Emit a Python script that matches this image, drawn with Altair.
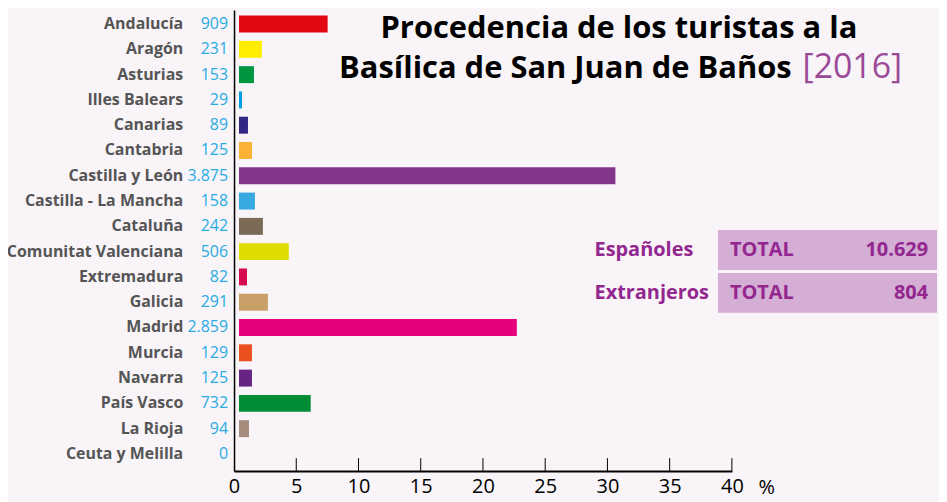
import altair as alt
import pandas as pd

regions = ["Andalucía", "Aragón", "Asturias", "Illes Balears", "Canarias", "Cantabria",
           "Castilla y León", "Castilla - La Mancha", "Cataluña", "Comunitat Valenciana",
           "Extremadura", "Galicia", "Madrid", "Murcia", "Navarra", "País Vasco",
           "La Rioja", "Ceuta y Melilla"]
count_labels = ["909", "231", "153", "29", "89", "125", "3.875", "158", "242", "506",
                "82", "291", "2.859", "129", "125", "732", "94", "0"]
pct = [7.12, 1.84, 1.20, 0.24, 0.72, 1.04, 30.24, 1.28, 1.92, 4.00,
       0.64, 2.32, 22.32, 1.04, 1.04, 5.76, 0.80, 0.0]
colors = ["#e30613", "#ffed00", "#009640", "#009fe3", "#312783", "#f9b233",
          "#833689", "#36a9e1", "#7a6a56", "#dedc00", "#d60b52", "#c89f67",
          "#e6007e", "#ea511f", "#662483", "#008d36", "#a58c7d", "#cccccc"]
tick_values = [0, 5, 10, 15, 20, 25, 30, 35, 40]

group_labels = ["Españoles", "Extranjeros"]
group_totals = ["10.629", "804"]

FONT = "Open Sans"
BG = "#f8f4f8"
PURPLE = "#93278f"
W, H = 500, 463

df = pd.DataFrame({"region": regions, "count": count_labels, "pct": pct, "color": colors})
x_scale = alt.Scale(domain=[0, 40], nice=False, zero=True)
x_axis = alt.Axis(values=tick_values, ticks=False, tickSize=0, labelFont=FONT,
                  labelFontSize=20, labelColor="black", labelPadding=6,
                  domainColor="black", domainWidth=2, grid=False, title=None,
                  labelFlush=False)
y_enc = alt.Y("region:N", sort=regions,
              scale=alt.Scale(paddingInner=0.33, paddingOuter=0.28, align=0.39),
              axis=alt.Axis(labels=False, ticks=False, domain=True, domainColor="black",
                            domainWidth=1.5, title=None, grid=False))

base = alt.Chart(df)

bars = base.mark_bar(xOffset=5, x2Offset=5).encode(
    x=alt.X("pct:Q", scale=x_scale, axis=x_axis),
    y=y_enc,
    color=alt.Color("color:N", scale=None),
)

cat_labels = base.mark_text(align="right", baseline="middle", font=FONT, fontSize=16,
                            fontWeight="bold", color="#555555").encode(
    x=alt.value(-51), y=alt.Y("region:N", sort=regions), text="region:N")

cnt_labels = base.mark_text(align="right", baseline="middle", font=FONT, fontSize=16,
                            color="#29abe2").encode(
    x=alt.value(-6), y=alt.Y("region:N", sort=regions), text="count:N")

ticks_df = pd.DataFrame({"t": tick_values[1:]})
ticks = alt.Chart(ticks_df).mark_rule(color="black", strokeWidth=1).encode(
    x=alt.X("t:Q", scale=x_scale, axis=x_axis),
    y=alt.value(H - 13), y2=alt.value(H))

one = alt.Data(values=[{"a": 1}])

def txt(s, x, y, **kw):
    return alt.Chart(one).mark_text(text=s, font=FONT, **kw).encode(
        x=alt.value(x), y=alt.value(y))

title1 = txt("Procedencia de los turistas a la", 386.5, 28, fontSize=31,
             fontWeight="bold", color="black", align="center", baseline="alphabetic")
title2 = txt("Basílica de San Juan de Baños", 560, 68, fontSize=31,
             fontWeight="bold", color="black", align="right", baseline="alphabetic")
title3 = txt("[2016]", 571, 68, fontSize=34, color="#9b4a97", align="left",
             baseline="alphabetic")
pct_sign = txt("%", 535, 480, fontSize=20, color="black", align="center",
               baseline="middle")

box1 = alt.Chart(one).mark_rect(color="#d4aed4").encode(
    x=alt.value(486), x2=alt.value(706), y=alt.value(221), y2=alt.value(261))
box2 = alt.Chart(one).mark_rect(color="#d4aed4").encode(
    x=alt.value(486), x2=alt.value(706), y=alt.value(264), y2=alt.value(304))

box_texts = []
for lbl, tot, yc in zip(group_labels, group_totals, [241, 284]):
    box_texts.append(txt(lbl, 362, yc, fontSize=20, fontWeight="bold", color=PURPLE,
                         align="left", baseline="middle"))
    box_texts.append(txt("TOTAL", 498, yc, fontSize=20, fontWeight="bold", color=PURPLE,
                         align="left", baseline="middle"))
    box_texts.append(txt(tot, 697, yc, fontSize=20, fontWeight="bold", color=PURPLE,
                         align="right", baseline="middle"))

chart = alt.layer(
    bars, ticks, cat_labels, cnt_labels, title1, title2, title3, pct_sign,
    box1, box2, *box_texts
).properties(
    width=W, height=H, background=BG,
    padding={"left": 227, "top": 1, "right": 208, "bottom": 30},
    autosize=alt.AutoSizeParams(type="none"),
).configure_view(stroke=None)

chart.save("out.html", embed_options={"renderer": "svg", "actions": False})
